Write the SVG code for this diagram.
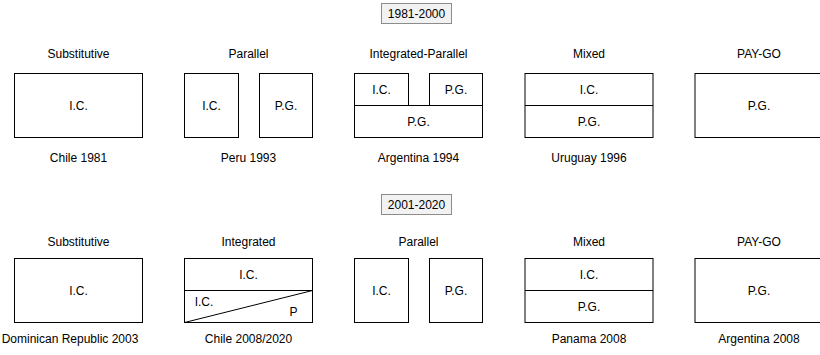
<svg xmlns="http://www.w3.org/2000/svg" width="820" height="355" viewBox="0 0 820 355">
<style>
text{font-family:"Liberation Sans",Arial,sans-serif;font-size:12px;fill:#000;text-anchor:middle}
.b{fill:#fff;stroke:#000;stroke-width:1}
.t{fill:#f2f2f2;stroke:#8c8c8c;stroke-width:1}
.l{stroke:#000;stroke-width:1;fill:none}
</style>
<rect width="820" height="355" fill="#fff"/>
<g id="period1">
<rect class="t" x="381.5" y="3.5" width="70" height="20"/>
<text x="416.5" y="18">1981-2000</text>
</g>
<g id="r1-substitutive">
<text x="78.5" y="58">Substitutive</text>
<rect class="b" x="14.5" y="73.5" width="128" height="64"/>
<text x="78.5" y="109.5">I.C.</text>
<text x="78.5" y="162">Chile 1981</text>
</g>
<g id="r1-parallel">
<text x="248.5" y="58">Parallel</text>
<rect class="b" x="184.5" y="73.5" width="54" height="64"/>
<rect class="b" x="259.5" y="73.5" width="53" height="64"/>
<text x="211.5" y="109.5">I.C.</text>
<text x="286" y="109.5">P.G.</text>
<text x="248.5" y="162">Peru 1993</text>
</g>
<g id="r1-integrated-parallel">
<text x="418.5" y="58">Integrated-Parallel</text>
<rect class="b" x="354.5" y="73.5" width="54" height="32"/>
<rect class="b" x="429.5" y="73.5" width="53" height="32"/>
<rect class="b" x="354.5" y="105.5" width="128" height="32"/>
<text x="381.5" y="93.5">I.C.</text>
<text x="456" y="93.5">P.G.</text>
<text x="418.5" y="125.5">P.G.</text>
<text x="418.5" y="162">Argentina 1994</text>
</g>
<g id="r1-mixed">
<text x="589" y="58">Mixed</text>
<rect class="b" x="525" y="73.5" width="128" height="64"/>
<line class="l" x1="525" y1="105.5" x2="653" y2="105.5"/>
<text x="589" y="93.5">I.C.</text>
<text x="589" y="125.5">P.G.</text>
<text x="589" y="162">Uruguay 1996</text>
</g>
<g id="r1-paygo">
<text x="759" y="58">PAY-GO</text>
<rect class="b" x="695" y="73.5" width="128" height="64"/>
<text x="759" y="109.5">P.G.</text>
</g>
<g id="period2">
<rect class="t" x="381.5" y="194.5" width="70" height="20"/>
<text x="416.5" y="209">2001-2020</text>
</g>
<g id="r2-substitutive">
<text x="78.5" y="246">Substitutive</text>
<rect class="b" x="14.5" y="258.5" width="128" height="64"/>
<text x="78.5" y="294.5">I.C.</text>
<text x="70" y="343">Dominican Republic 2003</text>
</g>
<g id="r2-integrated">
<text x="248.5" y="246">Integrated</text>
<rect class="b" x="184.5" y="258.5" width="128" height="64"/>
<line class="l" x1="184.5" y1="290.5" x2="312.5" y2="290.5"/>
<line class="l" x1="184.5" y1="322.5" x2="312.5" y2="290.5"/>
<text x="248.5" y="278.5">I.C.</text>
<text x="204" y="305.5">I.C.</text>
<text x="293.5" y="316">P</text>
<text x="248.5" y="343">Chile 2008/2020</text>
</g>
<g id="r2-parallel">
<text x="418.5" y="246">Parallel</text>
<rect class="b" x="354.5" y="258.5" width="54" height="64"/>
<rect class="b" x="429.5" y="258.5" width="53" height="64"/>
<text x="381.5" y="294.5">I.C.</text>
<text x="456" y="294.5">P.G.</text>
</g>
<g id="r2-mixed">
<text x="589" y="246">Mixed</text>
<rect class="b" x="525" y="258.5" width="128" height="64"/>
<line class="l" x1="525" y1="290.5" x2="653" y2="290.5"/>
<text x="589" y="278.5">I.C.</text>
<text x="589" y="310.5">P.G.</text>
<text x="589" y="343">Panama 2008</text>
</g>
<g id="r2-paygo">
<text x="759" y="246">PAY-GO</text>
<rect class="b" x="695" y="258.5" width="128" height="64"/>
<text x="759" y="294.5">P.G.</text>
<text x="759" y="343">Argentina 2008</text>
</g>
<g id="connectors"/>
</svg>
